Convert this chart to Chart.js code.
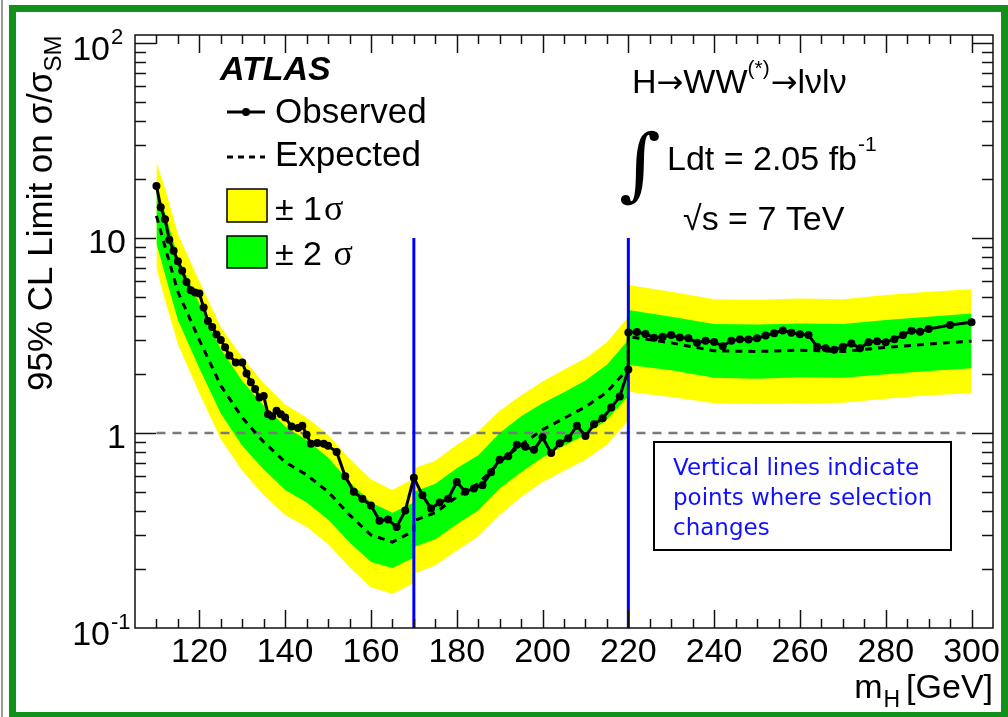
<!DOCTYPE html>
<html>
<head>
<meta charset="utf-8">
<script src="https://cdn.jsdelivr.net/npm/chart.js@4.4.1/dist/chart.umd.min.js"></script>
<style>
  html, body { margin: 0; padding: 0; background: #fff; }
  body { width: 1008px; height: 717px; position: relative; overflow: hidden; }
  #edge { position: absolute; left: 1px; top: 0; width: 2px; height: 717px; background: #999; }
  #frame { position: absolute; left: 9px; top: 5px; width: 999px; height: 714px;
           border: 7px solid #13901a; box-sizing: border-box; }
  #chart { position: absolute; left: 0; top: 0; }
</style>
</head>
<body>
<div id="edge"></div>
<div id="frame"></div>
<canvas id="chart" width="1008" height="717"></canvas>
<script>
// observed limit (95% CL, sigma/sigma_SM) vs Higgs mass [GeV]
const obsMass = [110, 111, 112, 113, 114, 115, 116, 117, 118, 119, 120, 121, 122, 123, 124, 125, 126, 127, 128.5, 130,
  131, 132, 133, 134, 135, 136, 137, 138, 139, 140, 141.5, 143, 144, 145, 146, 147.5, 149, 150,
  152, 154, 156, 158, 160, 162, 164, 166, 168, 170, 172, 174, 176, 178, 180, 182, 184, 186, 188, 190,
  192, 194, 196, 198, 200, 202, 204, 206, 208, 210, 212, 214, 216, 218, 220,
  220, 222, 224, 226, 228, 230, 232, 234, 236, 238, 240, 242, 244, 246, 248, 250, 252, 254, 256, 258,
  260, 262, 264, 266, 268, 270, 272, 274, 276, 278, 280, 282, 284, 286, 288, 290, 295, 300];
const obsLimit = [18.5, 14.4, 12.5, 9.8, 8.6, 7.6, 6.8, 5.95, 5.4, 5.25, 5.2, 4.4, 3.75, 3.5, 3.2, 3.0, 2.75, 2.5, 2.3, 2.3,
  2.02, 1.82, 1.68, 1.52, 1.55, 1.25, 1.22, 1.3, 1.25, 1.2, 1.08, 1.06, 1.09, 0.98, 0.88, 0.89, 0.88, 0.86,
  0.80, 0.60, 0.50, 0.46, 0.425, 0.355, 0.36, 0.33, 0.40, 0.59, 0.48, 0.41, 0.44, 0.46, 0.56, 0.50, 0.52, 0.54, 0.63, 0.73,
  0.76, 0.87, 0.85, 0.82, 0.95, 0.79, 0.885, 0.94, 1.09, 0.965, 1.11, 1.19, 1.35, 1.54, 2.12,
  3.28, 3.3, 3.22, 3.08, 3.12, 3.18, 3.09, 3.06, 2.90, 2.97, 2.93, 2.79, 2.97, 3.03, 3.02, 3.06, 3.16, 3.25, 3.36, 3.27,
  3.21, 3.18, 2.77, 2.72, 2.67, 2.77, 2.88, 2.72, 2.92, 2.96, 2.92, 3.03, 3.18, 3.35, 3.31, 3.42, 3.58, 3.70];

// expected limit and its bands
const bandMass = [110, 112, 115, 120, 125, 130, 135, 140, 145, 150, 155, 160, 165, 170, 170, 175, 180, 185, 190,
  195, 200, 205, 210, 215, 220, 220, 230, 240, 250, 260, 270, 280, 290, 300];
const expLimit = [13.0, 9.0, 5.3, 3.0, 1.75, 1.2, 0.9, 0.71, 0.61, 0.50, 0.38, 0.30, 0.276, 0.315, 0.355, 0.39, 0.47, 0.55, 0.71,
  0.87, 1.04, 1.19, 1.36, 1.62, 2.15, 3.12, 2.9, 2.64, 2.62, 2.66, 2.62, 2.75, 2.86, 2.96];
const band1Lo = [9.4, 6.5, 3.8, 2.15, 1.26, 0.86, 0.65, 0.51, 0.44, 0.36, 0.275, 0.218, 0.203, 0.23, 0.26, 0.285, 0.34, 0.40, 0.52,
  0.63, 0.75, 0.86, 0.98, 1.17, 1.55, 2.23, 2.1, 1.92, 1.9, 1.93, 1.92, 2.0, 2.08, 2.15];
const band1Hi = [17.0, 13.5, 8.0, 4.6, 2.7, 1.85, 1.38, 1.08, 0.92, 0.75, 0.56, 0.44, 0.39, 0.44, 0.5, 0.55, 0.66, 0.77, 1.0,
  1.22, 1.42, 1.62, 1.86, 2.24, 3.0, 4.27, 3.95, 3.62, 3.6, 3.65, 3.62, 3.8, 3.95, 4.1];
const band2Lo = [7.0, 4.8, 2.85, 1.6, 0.93, 0.64, 0.48, 0.38, 0.33, 0.27, 0.205, 0.162, 0.15, 0.17, 0.19, 0.21, 0.25, 0.295, 0.38,
  0.47, 0.56, 0.64, 0.73, 0.87, 1.16, 1.63, 1.53, 1.42, 1.41, 1.42, 1.43, 1.5, 1.56, 1.6];
const band2Hi = [24.5, 18.0, 10.5, 6.0, 3.5, 2.45, 1.8, 1.4, 1.2, 0.98, 0.74, 0.58, 0.51, 0.585, 0.66, 0.72, 0.87, 1.02, 1.3,
  1.56, 1.84, 2.12, 2.42, 2.92, 3.95, 5.74, 5.3, 4.86, 4.82, 4.9, 4.85, 5.1, 5.3, 5.46];

const selectionCuts = [170, 220];
const xTickLabels = [120, 140, 160, 180, 200, 220, 240, 260, 280, 300];
const yTickLabels = [[0.1, '10', '-1'], [1, '1', ''], [10, '10', ''], [100, '10', '2']];
const noteLines = ['Vertical lines indicate', 'points where selection', 'changes'];

const SANS = '"Liberation Sans", Arial, Helvetica, sans-serif';
Chart.defaults.font.family = SANS;

const pts = (xs, ys) => xs.map((m, i) => ({ x: m, y: ys[i] }));
const edge = (data, order, extra) => Object.assign({
  data, order, borderColor: 'rgba(0,0,0,0)', borderWidth: 0, pointRadius: 0, fill: false, tension: 0
}, extra);

const datasets = [
  edge(pts(bandMass, band2Lo), 10),
  edge(pts(bandMass, band2Hi), 10, { fill: 0, backgroundColor: '#ffff00' }),
  edge(pts(bandMass, band1Lo), 9),
  edge(pts(bandMass, band1Hi), 9, { fill: 2, backgroundColor: '#00ff00' }),
  { data: pts([110, 300], [1, 1]), order: 5, borderColor: '#7a7a7a', borderWidth: 2.5, borderDash: [9, 7], pointRadius: 0 },
  { data: pts(bandMass, expLimit), order: 4, borderColor: '#000', borderWidth: 3, borderDash: [7, 6], pointRadius: 0 }
];
selectionCuts.forEach(m => datasets.push(
  { data: pts([m, m], [10, 0.1]), order: 3, borderColor: '#0000ff', borderWidth: 3, pointRadius: 0 }
));
datasets.push({ data: pts(obsMass, obsLimit), order: 1, borderColor: '#000', borderWidth: 3,
  pointRadius: 4, pointBackgroundColor: '#000', pointBorderWidth: 0 });

function text(ctx, s, x, y, size, opts = {}) {
  ctx.font = (opts.style || '') + ' ' + size + 'px ' + (opts.family || SANS);
  ctx.textAlign = opts.align || 'left';
  ctx.textBaseline = 'alphabetic';
  ctx.fillStyle = opts.color || '#000';
  ctx.fillText(s, x, y);
  return ctx.measureText(s).width;
}

function seg(ctx, x1, y1, x2, y2) {
  ctx.beginPath(); ctx.moveTo(x1, y1); ctx.lineTo(x2, y2); ctx.stroke();
}

// ROOT-like frame, inward ticks, labels and annotations
const rootStyle = {
  id: 'rootStyle',
  afterDraw(chart) {
    const { ctx, chartArea: a, scales: { x, y } } = chart;
    ctx.save();
    ctx.strokeStyle = '#111';
    ctx.lineWidth = 1.5;
    ctx.strokeRect(a.left, a.top, a.right - a.left, a.bottom - a.top);

    for (let m = 110; m < 305; m += 5) {
      const px = Math.round(x.getPixelForValue(m)) + 0.5;
      const len = m % 20 === 0 ? 18 : 9;
      seg(ctx, px, a.bottom, px, a.bottom - len);
      seg(ctx, px, a.top, px, a.top + len);
    }
    for (let d = 0.1; d < 200; d *= 10) {
      for (let k = 1; k < 10; k++) {
        const v = k * d;
        if (v > 110 || (k === 1 && d === 0.1)) continue;
        const py = Math.round(y.getPixelForValue(v)) + 0.5;
        const len = k === 1 ? 21 : 11;
        seg(ctx, a.left, py, a.left + len, py);
        seg(ctx, a.right, py, a.right - len, py);
      }
    }

    xTickLabels.forEach(v => text(ctx, String(v), x.getPixelForValue(v), 662, 34, { align: 'center' }));
    yTickLabels.forEach(([v, base, sup]) => {
      const py = y.getPixelForValue(v);
      if (sup) {
        text(ctx, base, 110, py + 17, 34, { align: 'right' });
        text(ctx, sup, 111, py + 1, 22);
      } else {
        text(ctx, base, 126, py + 15, 34, { align: 'right' });
      }
    });

    // axis titles
    let xr = 993;
    xr -= text(ctx, '[GeV]', xr, 698, 34, { align: 'right' }) + 6;
    xr -= text(ctx, 'H', xr, 707, 23, { align: 'right' }) + 1;
    text(ctx, 'm', xr, 698, 34, { align: 'right' });

    ctx.save();
    ctx.translate(52, 391);
    ctx.rotate(-Math.PI / 2);
    const wt = text(ctx, '95% CL Limit on \u03c3/\u03c3', 0, 0, 35);
    text(ctx, 'SM', wt, 9, 24);
    ctx.restore();

    // legend
    text(ctx, 'ATLAS', 220, 80, 34, { style: 'italic bold' });
    ctx.lineWidth = 3;
    ctx.strokeStyle = '#000';
    seg(ctx, 227, 112, 265, 112);
    ctx.fillStyle = '#000';
    ctx.beginPath(); ctx.arc(246, 112, 4, 0, Math.PI * 2); ctx.fill();
    text(ctx, 'Observed', 275, 123, 35);
    ctx.setLineDash([6, 5]);
    seg(ctx, 227, 157, 265, 157);
    ctx.setLineDash([]);
    text(ctx, 'Expected', 275, 166, 35);
    ctx.lineWidth = 1.5;
    ctx.fillStyle = '#ffff00';
    ctx.fillRect(227, 189, 40, 33); ctx.strokeRect(227, 189, 40, 33);
    ctx.fillStyle = '#00ff00';
    ctx.fillRect(227, 236, 40, 32); ctx.strokeRect(227, 236, 40, 32);
    let lx = 275 + text(ctx, '\u00b1 1', 275, 220, 34);
    text(ctx, '\u03c3', lx + 2, 220, 36, { family: '"Liberation Serif", serif' });
    lx = 275 + text(ctx, '\u00b1 2 ', 275, 265, 34);
    text(ctx, '\u03c3', lx + 2, 265, 36, { family: '"Liberation Serif", serif' });

    // process / luminosity text
    const ARROW = '"DejaVu Sans", sans-serif';
    let tx = 632;
    tx += text(ctx, 'H', tx, 93, 34);
    tx += text(ctx, '\u2192', tx, 93, 32, { family: ARROW });
    tx += text(ctx, 'WW', tx, 93, 34);
    tx += text(ctx, '(*)', tx, 75, 21) + 1;
    tx += text(ctx, '\u2192', tx, 93, 32, { family: ARROW });
    text(ctx, 'l\u03bdl\u03bd', tx, 93, 34);
    text(ctx, '\u222b', 619, 191, 80, { family: '"DejaVu Serif", serif' });
    const wl = text(ctx, 'Ldt = 2.05 fb', 667, 170, 34);
    text(ctx, '-1', 667 + wl + 1, 151, 21);
    text(ctx, '\u221as = 7 TeV', 683, 230, 34);

    // note box
    ctx.lineWidth = 2;
    ctx.strokeStyle = '#000';
    ctx.fillStyle = '#fff';
    ctx.fillRect(654, 442, 297, 108);
    ctx.strokeRect(654, 442, 297, 108);
    noteLines.forEach((s, i) => text(ctx, s, 673, 475 + i * 30, 23,
      { family: '"Comic Sans MS", "DejaVu Sans", sans-serif', color: '#1010ff' }));
    ctx.restore();
  }
};

new Chart(document.getElementById('chart').getContext('2d'), {
  type: 'line',
  data: { datasets },
  options: {
    responsive: false,
    animation: false,
    events: [],
    layout: { padding: { top: 35, right: 15, left: 0, bottom: 0 } },
    plugins: { legend: { display: false }, tooltip: { enabled: false } },
    scales: {
      x: {
        type: 'linear', min: 105, max: 305,
        grid: { display: false }, border: { display: false },
        ticks: { display: false },
        afterFit: s => { s.height = 89; }
      },
      y: {
        type: 'logarithmic', min: 0.1, max: 110,
        grid: { display: false }, border: { display: false },
        ticks: { display: false },
        afterFit: s => { s.width = 135; }
      }
    }
  },
  plugins: [rootStyle]
});
</script>
</body>
</html>
